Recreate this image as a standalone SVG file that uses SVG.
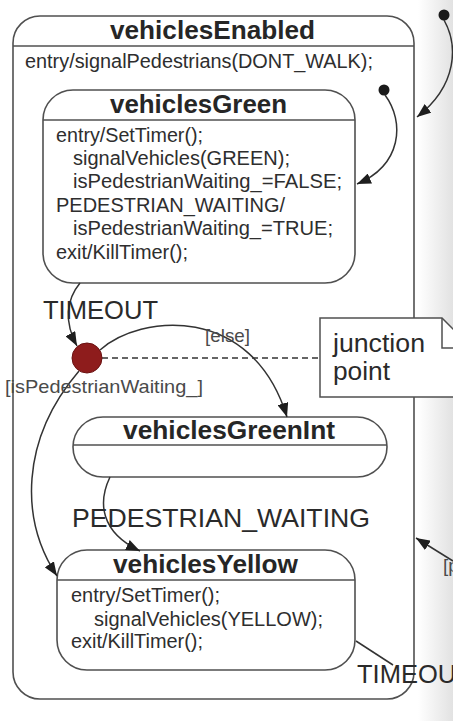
<svg xmlns="http://www.w3.org/2000/svg" width="453" height="721" viewBox="0 0 453 721">
  <defs>
    <linearGradient id="edge" x1="0" y1="0" x2="1" y2="0">
      <stop offset="0" stop-color="#ffffff"/>
      <stop offset="1" stop-color="#e2e2e2"/>
    </linearGradient>
    <marker id="arrow" viewBox="0 0 14 11" refX="14" refY="5.5" markerWidth="14" markerHeight="11" markerUnits="userSpaceOnUse" orient="auto">
      <path d="M0,0 L14,5.5 L0,11 z" fill="#1e1e1e"/>
    </marker>
  </defs>
  <style>
    .state { fill: #ffffff; stroke: #505050; stroke-width: 1.6; }
    .div { stroke: #505050; stroke-width: 1.6; }
    .title { font-family: "Liberation Sans", Arial, sans-serif; font-weight: bold; font-size: 25px; fill: #262626; }
    .body { font-family: "Liberation Sans", Arial, sans-serif; font-size: 19.5px; fill: #2e2e2e; }
    .lbl { font-family: "Liberation Sans", Arial, sans-serif; font-size: 25.5px; fill: #2a2a2a; }
    .guard { font-family: "Liberation Sans", Arial, sans-serif; font-size: 19px; fill: #4a4a4a; }
    .edge { fill: none; stroke: #333333; stroke-width: 1.5; }
    .arr { marker-end: url(#arrow); }
    .dot { fill: #1a1a1a; }
  </style>

  <rect x="0" y="0" width="453" height="721" fill="#ffffff"/>
  <rect x="418" y="0" width="35" height="721" fill="url(#edge)"/>

  <g id="vehiclesEnabled">
    <rect class="state" x="13" y="16" width="401" height="683" rx="27" ry="27" fill="none"/>
    <line class="div" x1="13" y1="46" x2="414" y2="46"/>
    <text class="title" x="110" y="39" textLength="205" lengthAdjust="spacingAndGlyphs">vehiclesEnabled</text>
    <text class="body" x="25" y="68" textLength="348" lengthAdjust="spacingAndGlyphs">entry/signalPedestrians(DONT_WALK);</text>
  </g>

  <g id="vehiclesGreen">
    <rect class="state" x="43" y="90" width="312" height="193" rx="30" ry="30"/>
    <line class="div" x1="43" y1="120" x2="355" y2="120"/>
    <text class="title" x="110" y="113" textLength="177" lengthAdjust="spacingAndGlyphs">vehiclesGreen</text>
    <text class="body" x="56" y="141.5" textLength="147" lengthAdjust="spacingAndGlyphs">entry/SetTimer();</text>
    <text class="body" x="73" y="165" textLength="217" lengthAdjust="spacingAndGlyphs">signalVehicles(GREEN);</text>
    <text class="body" x="73" y="188" textLength="269" lengthAdjust="spacingAndGlyphs">isPedestrianWaiting_=FALSE;</text>
    <text class="body" x="56" y="211.5" textLength="229" lengthAdjust="spacingAndGlyphs">PEDESTRIAN_WAITING/</text>
    <text class="body" x="73" y="235" textLength="260" lengthAdjust="spacingAndGlyphs">isPedestrianWaiting_=TRUE;</text>
    <text class="body" x="56" y="258.5" textLength="132" lengthAdjust="spacingAndGlyphs">exit/KillTimer();</text>
  </g>

  <g id="vehiclesGreenInt">
    <rect class="state" x="73" y="417" width="314" height="60" rx="30" ry="30"/>
    <line class="div" x1="73" y1="445" x2="387" y2="445"/>
    <text class="title" x="123" y="439" textLength="212" lengthAdjust="spacingAndGlyphs">vehiclesGreenInt</text>
  </g>

  <g id="vehiclesYellow">
    <rect class="state" x="57" y="550" width="298" height="120" rx="30" ry="30"/>
    <line class="div" x1="57" y1="580" x2="355" y2="580"/>
    <text class="title" x="113" y="573" textLength="185" lengthAdjust="spacingAndGlyphs">vehiclesYellow</text>
    <text class="body" x="71" y="602" textLength="149" lengthAdjust="spacingAndGlyphs">entry/SetTimer();</text>
    <text class="body" x="94" y="626" textLength="229" lengthAdjust="spacingAndGlyphs">signalVehicles(YELLOW);</text>
    <text class="body" x="71" y="648" textLength="132" lengthAdjust="spacingAndGlyphs">exit/KillTimer();</text>
  </g>

  <g id="connectors">
    <circle class="dot" cx="444" cy="15" r="5.5"/>
    <path class="edge arr" d="M444,20 C458,45 458,85 417,117"/>
    <circle class="dot" cx="384" cy="90" r="5.5"/>
    <path class="edge arr" d="M385,95 C405,122 402,165 357,184"/>
    <path class="edge arr" d="M80,283 C66,300 64,322 77,346"/>
    <path class="edge arr" d="M100,350 C140,314 252,303 287,417"/>
    <path class="edge arr" d="M79,371 C20,440 20,520 57,576"/>
    <path class="edge arr" d="M110,477 C98,502 100,532 140,551"/>
    <path class="edge" d="M356,641 L393,665"/>
    <path class="edge arr" d="M453,561 L416,538"/>
    <line x1="102" y1="358" x2="320" y2="358" stroke="#333333" stroke-width="1.5" stroke-dasharray="6,4"/>
  </g>

  <g id="junction">
    <circle cx="87" cy="358" r="15" fill="#8e1c1c" stroke="#6a1212" stroke-width="1"/>
  </g>

  <g id="note">
    <path d="M320,318 H442 L472,348 V397 H320 Z" fill="#ffffff" stroke="#505050" stroke-width="1.5"/>
    <path d="M442,318 V348 H472" fill="none" stroke="#505050" stroke-width="1.5"/>
    <text class="lbl" x="333" y="352" textLength="92" lengthAdjust="spacingAndGlyphs">junction</text>
    <text class="lbl" x="333" y="380" textLength="57" lengthAdjust="spacingAndGlyphs">point</text>
  </g>

  <g id="labels">
    <text class="lbl" x="43" y="319" textLength="115" lengthAdjust="spacingAndGlyphs">TIMEOUT</text>
    <text class="guard" x="205" y="342" textLength="45" lengthAdjust="spacingAndGlyphs">[else]</text>
    <text class="guard" x="5" y="393" textLength="198" lengthAdjust="spacingAndGlyphs">[isPedestrianWaiting_]</text>
    <text class="lbl" x="72" y="527" textLength="298" lengthAdjust="spacingAndGlyphs">PEDESTRIAN_WAITING</text>
    <text class="lbl" x="357" y="683">TIMEOUT</text>
    <text class="guard" x="443" y="572">[p</text>
  </g>
</svg>
